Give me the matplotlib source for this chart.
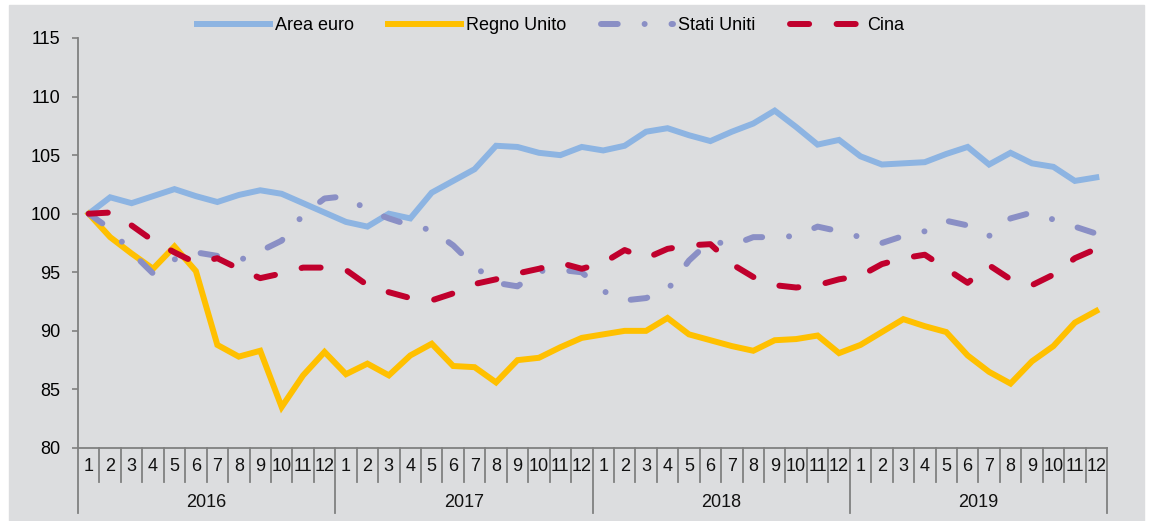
import matplotlib
matplotlib.use("Agg")
import matplotlib.pyplot as plt
import matplotlib.transforms as mtransforms
from matplotlib.patches import Rectangle

plt.rcParams['font.family'] = ['Liberation Sans', 'DejaVu Sans']

# Data (monthly index, Jan 2016 = 100)
years = ["2016", "2017", "2018", "2019"]
months = [str(m) for m in range(1, 13)]

area_euro = [100.0, 101.4, 100.9, 101.5, 102.1, 101.5, 101.0, 101.6, 102.0, 101.7, 100.9, 100.1,
             99.3, 98.9, 100.0, 99.6, 101.8, 102.8, 103.8, 105.8, 105.7, 105.2, 105.0, 105.7,
             105.4, 105.8, 107.0, 107.3, 106.7, 106.2, 107.0, 107.7, 108.8, 107.4, 105.9, 106.3,
             104.9, 104.2, 104.3, 104.4, 105.1, 105.7, 104.2, 105.2, 104.3, 104.0, 102.8, 103.1]

regno_unito = [100.0, 98.0, 96.6, 95.3, 97.2, 95.1, 88.8, 87.8, 88.3, 83.5, 86.2, 88.2,
               86.3, 87.2, 86.2, 87.9, 88.9, 87.0, 86.9, 85.6, 87.5, 87.7, 88.6, 89.4,
               89.7, 90.0, 90.0, 91.1, 89.7, 89.2, 88.7, 88.3, 89.2, 89.3, 89.6, 88.1,
               88.8, 89.9, 91.0, 90.4, 89.9, 87.9, 86.5, 85.5, 87.4, 88.7, 90.7, 91.7]

stati_uniti = [100.0, 98.7, 96.7, 94.9, 96.1, 96.7, 96.4, 96.0, 96.8, 97.7, 99.9, 101.3,
               101.5, 100.3, 99.6, 99.0, 98.6, 97.3, 95.5, 94.1, 93.8, 95.1, 95.2, 95.0,
               93.4, 92.6, 92.8, 93.5, 96.0, 97.7, 97.3, 98.0, 98.0, 98.1, 98.9, 98.5,
               98.0, 97.5, 98.1, 98.5, 99.4, 99.0, 98.1, 99.6, 100.1, 99.5, 98.9, 98.3]

cina = [100.0, 100.1, 99.0, 97.7, 96.7, 95.8, 96.2, 95.3, 94.5, 94.9, 95.4, 95.4,
        95.2, 93.9, 93.3, 92.8, 92.6, 93.2, 94.0, 94.4, 94.9, 95.3, 95.8, 95.3,
        95.8, 96.9, 96.2, 97.0, 97.3, 97.4, 95.7, 94.6, 93.9, 93.7, 93.9, 94.4,
        94.7, 95.7, 96.2, 96.5, 95.3, 94.1, 95.6, 94.4, 93.9, 94.8, 96.2, 97.0]

bg = "#DCDDDF"
axis_gray = "#808080"

W, H = 1149, 521
fig = plt.figure(figsize=(W / 100, H / 100), dpi=100, facecolor="white")
fig.patches.append(Rectangle((9 / W, 0), (1144 - 9) / W, (H - 5) / H,
                             transform=fig.transFigure, color=bg, zorder=-10))

ax = fig.add_axes([78 / W, (H - 448) / H, (1107 - 78) / W, (448 - 38) / H])
ax.set_facecolor(bg)

x = list(range(len(area_euro)))
lw = 4.3
ax.plot(x, area_euro, color="#8DB4E2", lw=lw, solid_joinstyle="miter", label="Area euro")
ax.plot(x, regno_unito, color="#FFC000", lw=lw, solid_joinstyle="miter", label="Regno Unito")
ax.plot(x, stati_uniti, color="#8A8FC5", lw=lw, dash_capstyle="round",
        linestyle=(0, (2.8, 4.5, 0.01, 4.5)), label="Stati Uniti")
ax.plot(x, cina, color="#C0002D", lw=lw, dash_capstyle="round",
        linestyle=(0, (3.2, 4.6)), label="Cina")

ax.set_xlim(-0.5, len(x) - 0.5)
ax.set_ylim(80, 115)
ax.set_yticks(range(80, 116, 5))
ax.set_xticks([])
ax.tick_params(axis="y", direction="out", length=4.5, width=1.2, color=axis_gray,
               labelsize=13, pad=8)

for s in ["top", "right"]:
    ax.spines[s].set_visible(False)
for s in ["left", "bottom"]:
    ax.spines[s].set_color(axis_gray)
    ax.spines[s].set_linewidth(1.3)

# category axis: months and years
trans = mtransforms.blended_transform_factory(ax.transData, ax.transAxes)
for i in range(len(x)):
    ax.text(i, -0.046, months[i % 12], transform=trans, ha="center", va="center",
            fontsize=13, color="#111111")
for i in range(1, len(x)):
    if i % 12 != 0:
        ax.plot([i - 0.5, i - 0.5], [0, -0.082], transform=trans, color=axis_gray,
                lw=1.3, clip_on=False)
for k in range(len(years) + 1):
    xb = 12 * k - 0.5
    ax.plot([xb, xb], [0, -0.159], transform=trans, color=axis_gray, lw=1.3, clip_on=False)
for k, yr in enumerate(years):
    ax.text(12 * k + 5.5, -0.132, yr, transform=trans, ha="center", va="center",
            fontsize=13, color="#111111")

fig.legend(loc="center", bbox_to_anchor=(551 / W, 1 - 26 / H), ncol=4, frameon=False,
           fontsize=13, handlelength=4.0, handletextpad=0.3, columnspacing=1.9)

fig.savefig("out.png", dpi=100, facecolor="white")
